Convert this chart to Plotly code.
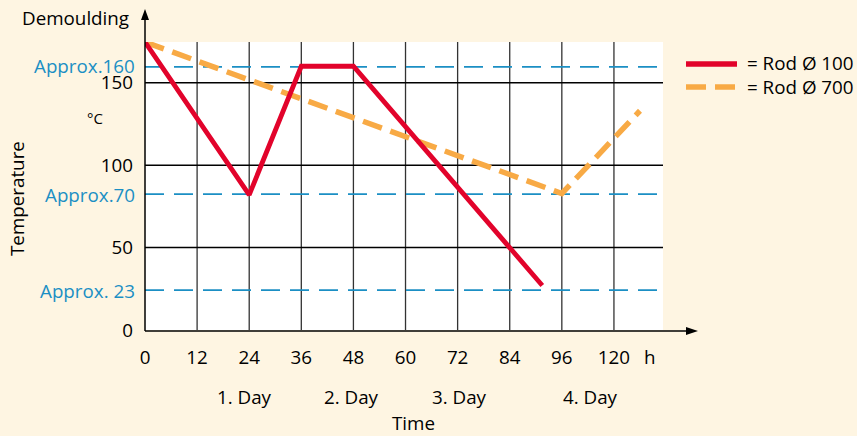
import plotly.graph_objects as go

# ---- data ----
hours_rod100 = [0, 24, 36, 48, 91.5]
temp_rod100 = [174.7, 82, 160, 160, 27]
hours_rod700 = [0, 96, 114]
temp_rod700 = [174.7, 82.8, 133]

x_tick_vals = [0, 12, 24, 36, 48, 60, 72, 84, 96, 108]
x_tick_text = ["0", "12", "24", "36", "48", "60", "72", "84", "96", "120"]
grid_y = [50, 100, 150]
y_tick_vals = [0, 50, 100, 150]
ref_levels = [159.6, 82.4, 24.2]
ref_labels = ["Approx.160", "Approx.70", "Approx. 23"]
day_pos = [23, 47.5, 72.5, 102.5]
day_labels = ["1. Day", "2. Day", "3. Day", "4. Day"]
legend_names = ["= Rod Ø 100", "= Rod Ø 700"]

# ---- style ----
BG = "#fef5e2"
RED = "#e2032b"
ORANGE = "#f8aa45"
BLUE = "#1b8fc4"
FONT = "Open Sans"
FS = 18.8
W, H = 857, 436
L, R, T, B = 145, 663, 42, 330
XMAX, YMAX = 119.3, 174.7


def px(x):
    return (x - L) / (R - L)


def py(y):
    return (B - y) / (B - T)


fig = go.Figure()

shapes = []
# white plot area
shapes.append(dict(type="rect", xref="x", yref="y", x0=0, x1=XMAX, y0=0, y1=YMAX,
                   fillcolor="white", line=dict(width=0), layer="below"))
# vertical grid
for v in x_tick_vals[1:]:
    shapes.append(dict(type="line", xref="x", yref="y", x0=v, x1=v, y0=0, y1=YMAX,
                       line=dict(color="#333333", width=1.3), layer="below"))
# horizontal grid
for g in grid_y:
    shapes.append(dict(type="line", xref="x", yref="y", x0=0, x1=XMAX, y0=g, y1=g,
                       line=dict(color="black", width=1.5), layer="below"))
# reference dashed lines
for lv in ref_levels:
    shapes.append(dict(type="line", xref="x", yref="y", x0=0, x1=XMAX - 0.6, y0=lv, y1=lv,
                       line=dict(color=BLUE, width=1.8, dash="19px,10px"), layer="below"))
# axes with arrows
shapes.append(dict(type="line", xref="paper", yref="paper", x0=px(145), x1=px(145),
                   y0=py(331), y1=py(16), line=dict(color="black", width=1.5)))
shapes.append(dict(type="line", xref="paper", yref="paper", x0=px(145), x1=px(690),
                   y0=py(331), y1=py(331), line=dict(color="black", width=1.5)))
shapes.append(dict(type="path", xref="paper", yref="paper",
                   path=f"M {px(145)} {py(9)} L {px(141)} {py(20)} L {px(149)} {py(20)} Z",
                   fillcolor="black", line=dict(width=0)))
shapes.append(dict(type="path", xref="paper", yref="paper",
                   path=f"M {px(698)} {py(331)} L {px(686)} {py(327)} L {px(686)} {py(335)} Z",
                   fillcolor="black", line=dict(width=0)))
# legend samples
shapes.append(dict(type="line", xref="paper", yref="paper", x0=px(686), x1=px(737),
                   y0=py(64), y1=py(64), line=dict(color=RED, width=5.5)))
shapes.append(dict(type="line", xref="paper", yref="paper", x0=px(686), x1=px(736),
                   y0=py(87), y1=py(87), line=dict(color=ORANGE, width=5.5, dash="20px,9px")))

fig.add_trace(go.Scatter(x=hours_rod700, y=temp_rod700, mode="lines",
                         line=dict(color=ORANGE, width=5.5, dash="20px,9px"),
                         showlegend=False, cliponaxis=False))
fig.add_trace(go.Scatter(x=hours_rod100, y=temp_rod100, mode="lines",
                         line=dict(color=RED, width=4.8),
                         showlegend=False, cliponaxis=False))

ann = []
ann.append(dict(text="Demoulding", x=px(131), y=py(18), xref="paper", yref="paper",
                xanchor="right", yanchor="middle", showarrow=False))
ann.append(dict(text="°C", x=px(95), y=py(118), xref="paper", yref="paper",
                xanchor="center", yanchor="middle", showarrow=False,
                font=dict(size=15)))
ann.append(dict(text="Temperature", x=px(17), y=py(199), xref="paper", yref="paper",
                xanchor="center", yanchor="middle", textangle=-90, showarrow=False))
for lv, lb in zip(ref_levels, ref_labels):
    ann.append(dict(text=lb, x=px(137), y=lv, xref="paper", yref="y", xanchor="right",
                    yanchor="middle", showarrow=False, yshift=(1 if lv > 150 else -1),
                    font=dict(color=BLUE, size=FS, family=FONT)))
for dp, dl in zip(day_pos, day_labels):
    ann.append(dict(text=dl, x=dp, y=py(397), xref="x", yref="paper", xanchor="center",
                    yanchor="middle", showarrow=False))
ann.append(dict(text="Time", x=px(413), y=py(423), xref="paper", yref="paper",
                xanchor="center", yanchor="middle", showarrow=False))
ann.append(dict(text="h", x=px(650), y=py(357), xref="paper", yref="paper",
                xanchor="center", yanchor="middle", showarrow=False))
for i, name in enumerate(legend_names):
    ann.append(dict(text=name, x=px(745), y=py(63 + 24 * i), xref="paper", yref="paper",
                    xanchor="left", yanchor="middle", showarrow=False))

fig.update_layout(
    width=W, height=H,
    margin=dict(l=L, r=W - R, t=T, b=H - B, autoexpand=False),
    paper_bgcolor=BG, plot_bgcolor=BG,
    font=dict(family=FONT, size=FS, color="black"),
    shapes=shapes, annotations=ann, showlegend=False,
    xaxis=dict(range=[0, XMAX], tickvals=x_tick_vals, ticktext=x_tick_text,
               showgrid=False, zeroline=False, showline=False, ticks="",
               ticklabelstandoff=14, fixedrange=True, automargin=False),
    yaxis=dict(range=[0, YMAX], tickvals=y_tick_vals, showgrid=False, zeroline=False,
               showline=False, ticks="", ticklabelstandoff=11, fixedrange=True,
               automargin=False),
)

fig.write_html(
    "out.html",
    config={"displayModeBar": False, "staticPlot": True},
    post_script="document.body.style.margin='0';document.body.style.background='#fef5e2';",
)
